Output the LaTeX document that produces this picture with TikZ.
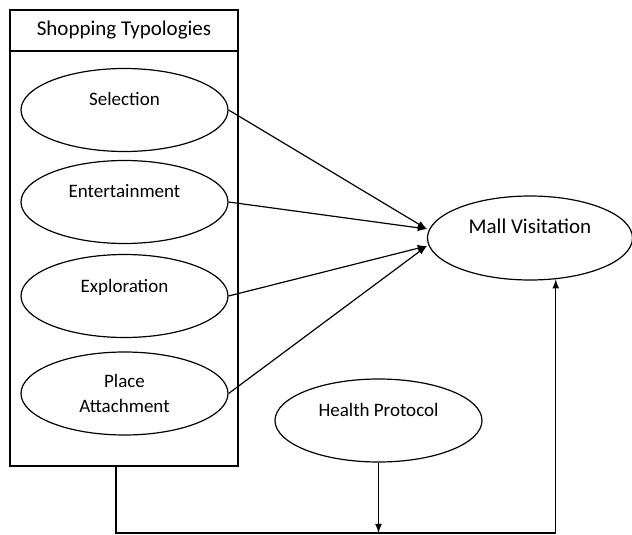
\documentclass[tikz,border=0pt]{standalone}
\usepackage{fontspec}
\setmainfont{Carlito}
\usetikzlibrary{calc,positioning,arrows,shapes.geometric}

\tikzset{
	oval/.style={draw, ellipse, line width=0.6pt, minimum width=103.5pt, minimum height=41.5pt, inner sep=0pt, font=\fontsize{9.5}{12.5}\selectfont},
	onetext/.style={text height=7pt, text depth=11pt},
	link/.style={-latex, line width=0.6pt}
}

\begin{document}
\begin{tikzpicture}[x=0.5pt,y=-0.5pt]
			\useasboundingbox (0,0) rectangle (632,535);
			\node[draw, line width=0.6pt, minimum width=114pt, minimum height=228pt, inner sep=0pt] at (124,238) (typo) {};
			\node[draw, line width=0.6pt, anchor=north, minimum width=114pt, minimum height=20.5pt, inner sep=0pt, font=\fontsize{10.5}{12}\selectfont] at (typo.north) (title) {Shopping Typologies};
			\node[oval, onetext] at (124.5,110) (sel) {Selection};
			\node[oval, onetext] at (124.5,202) (ent) {Entertainment};
			\node[oval, onetext] at (124.5,296) (exp) {Exploration};
			\node[oval, align=center] at (124.5,393.5) (place) {Place\\Attachment};
			\node[oval, onetext, minimum width=102.5pt, minimum height=42pt, font=\fontsize{10.5}{12}\selectfont] at (530,238) (mall) {Mall Visitation};
			\node[oval, onetext] at (378.5,420.5) (health) {Health Protocol};
			\coordinate (bot) at (0,533);
			\coordinate (typoout) at ($(typo.south)+(-8,0)$);
			\coordinate (mallup) at ($(mall.west)+(0,-9)$);
			\coordinate (malldown) at ($(mall.west)+(0,8)$);
			\draw[link] (sel.east) -- (mallup);
			\draw[link] (ent.east) -- (mallup);
			\draw[link] (exp.east) -- (malldown);
			\draw[link] (place.east) -- (malldown);
			\draw[link] (health.south) -- (health.south |- bot);
			\draw[link] (typoout) -- (typoout |- bot) -| (mall.-58);
		\end{tikzpicture}
\end{document}
